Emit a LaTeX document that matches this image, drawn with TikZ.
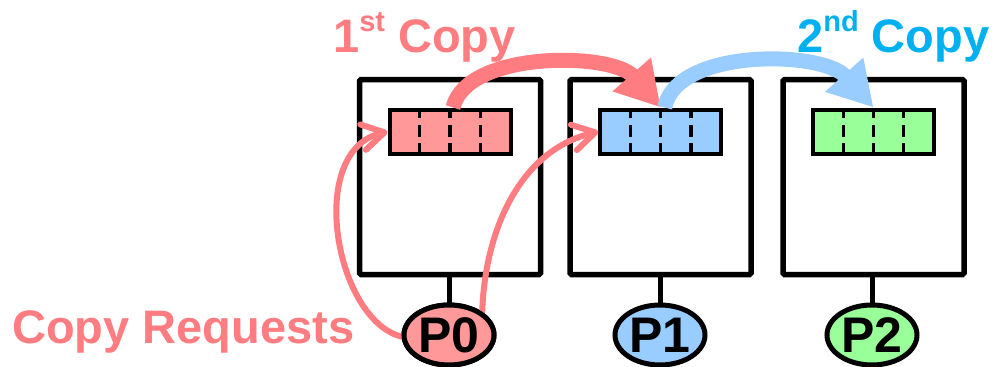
\documentclass[tikz,border=0pt]{standalone}
\usepackage{fontspec}
\setmainfont{Liberation Sans}
\usetikzlibrary{arrows.meta,shapes.geometric}
\definecolor{reqpink}{HTML}{FF7C80}
\definecolor{bufpink}{HTML}{FF9999}
\definecolor{bufblue}{HTML}{99CCFF}
\definecolor{bufgreen}{HTML}{99FF99}
\definecolor{copycyan}{HTML}{00B0F0}
\newcommand\supword[1]{{\fontsize{29}{29}\selectfont\raisebox{21pt}{#1}}}

\begin{document}
\begin{tikzpicture}[x=1pt,y=-1pt,
  procbox/.style={draw, line width=5.5pt, minimum width=181pt, minimum height=195pt,
    inner sep=0pt, rounded corners=1.5pt},
  buffer/.style={draw, line width=4pt, minimum width=121pt, minimum height=44.5pt, inner sep=0pt},
  cellsep/.style={line width=3.2pt, dash pattern=on 11.7pt off 6.7pt, dash phase=2.9pt},
  proc/.style={draw, ellipse, line width=5pt, minimum width=90pt, minimum height=60pt,
    inner sep=0pt, font=\fontsize{50}{50}\selectfont\bfseries},
  stem/.style={line width=5pt},
  request/.style={draw=reqpink, line width=6pt, line cap=round,
    -{Straight Barb[length=22pt,width=26pt,line join=round,line cap=round]}},
  bigcopy/.style={line width=15pt, -{Triangle[length=44pt,width=48pt]}},
  headline/.style={font=\fontsize{47}{47}\selectfont\bfseries, inner sep=0pt, anchor=base west},
]
\useasboundingbox (0,0) rectangle (997,367);

% processor memories
\node[procbox] (box0) at (450,177) {};
\node[procbox] (box1) at (660.5,177) {};
\node[procbox] (box2) at (873.5,177) {};

% buffers, four cells each
\node[buffer, fill=bufpink]  (buf0) at (450,131.75) {};
\node[buffer, fill=bufblue]  (buf1) at (660.75,131.75) {};
\node[buffer, fill=bufgreen] (buf2) at (873.5,131.75) {};
\foreach \c in {450,660.75,873.5}
  \foreach \i in {-1,0,1}
    \draw[cellsep] (\c+\i*30.25,109.5) -- (\c+\i*30.25,154);

% processes
\node[proc, fill=bufpink]  (p0) at (449,335) {P0};
\node[proc, fill=bufblue]  (p1) at (660,335) {P1};
\node[proc, fill=bufgreen] (p2) at (872,335) {P2};
\draw[stem] (p0.north |- box0.south) -- (p0.north);
\draw[stem] (p1.north |- box1.south) -- (p1.north);
\draw[stem] (p2.north |- box2.south) -- (p2.north);

% copy requests issued by P0
\draw[request] (p0.182) .. controls (335,320) and (305,150) .. (buf0.west);
\draw[request] (p0.35) .. controls (485,230) and (520,150) .. (buf1.west);
% redraw the P0 ellipse over the request tails
\node[proc, fill=bufpink] at (p0) {P0};

% the two copies
\draw[bigcopy, reqpink] ([xshift=3pt]buf0.north) .. controls (467,50) and (612,52) .. (buf1.north);
\draw[bigcopy, bufblue] ([xshift=4pt]buf1.north) .. controls (676,48) and (822,50) .. (buf2.north);

% captions
\node[headline, text=reqpink] (req) at (12,343) {Copy Requests};
\node[headline, text=reqpink] (first) at (333,52) {1\supword{st} Copy};
\node[headline, text=copycyan] (second) at (797,52) {2\supword{nd} Copy};
\end{tikzpicture}
\end{document}
